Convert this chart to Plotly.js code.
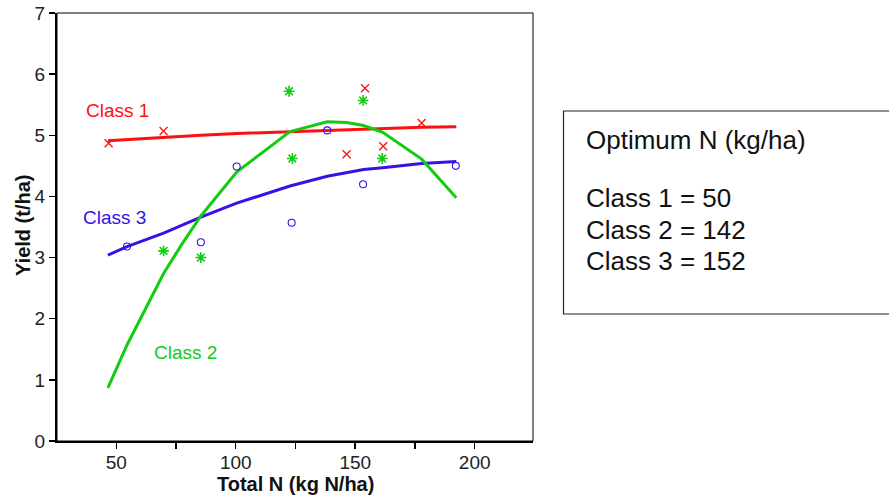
<!DOCTYPE html>
<html>
<head>
<meta charset="utf-8">
<script src="https://cdn.plot.ly/plotly-3.0.1.min.js"></script>
<style>html,body{margin:0;padding:0;background:#fff;}#chart{width:889px;height:497px;}</style>
</head>
<body>
<div id="chart"></div>
<script>
// Observed data (Total N kg/ha vs Yield t/ha)
var class1N = [46.8, 69.8, 146.4, 154.1, 161.7, 177.8];
var class1Y = [4.87, 5.07, 4.69, 5.77, 4.82, 5.20];
var class2N = [69.8, 85.4, 122.3, 123.7, 153.3, 161.3];
var class2Y = [3.11, 3.00, 5.72, 4.62, 5.57, 4.62];
var class3N = [54.5, 85.4, 100.4, 123.4, 138.3, 153.3, 192.1];
var class3Y = [3.18, 3.25, 4.49, 3.57, 5.08, 4.20, 4.50];

// Fitted response curves (read at the vertices of the drawn lines)
var fitN = [46.5, 54.5, 69.8, 77.5, 85.4, 100.4, 122.7, 138.3, 146.4, 153.5, 161.5, 177.8, 192.3];
var fit1Y = [4.91, 4.93, 4.97, 4.99, 5.00, 5.03, 5.06, 5.08, 5.09, 5.10, 5.11, 5.13, 5.14];
var fit2Y = [0.87, 1.57, 2.74, 3.22, 3.68, 4.40, 5.06, 5.22, 5.21, 5.16, 5.05, 4.61, 3.98];
var fit3Y = [3.04, 3.18, 3.40, 3.53, 3.66, 3.89, 4.17, 4.33, 4.39, 4.44, 4.47, 4.54, 4.57];

// Axis ticks
var xTickVals = [25, 50, 75, 100, 125, 150, 175, 200, 225];
var xTickText = ['', '50', '', '100', '', '150', '', '200', ''];
var yTickVals = [0, 1, 2, 3, 4, 5, 6, 7];

// Text
var xTitle = 'Total N (kg N/ha)';
var yTitle = 'Yield (t/ha)';
var classLabels = ['Class 1', 'Class 2', 'Class 3'];
var boxTitle = 'Optimum N (kg/ha)';
var optimumN = [50, 142, 152];

var RED = '#ff1010', GREEN = '#11cc11', BLUE = '#3a10e8';
var FONT = 'Arial, "Liberation Sans", sans-serif';

var traces = [
  {x: fitN, y: fit1Y, mode: 'lines', line: {color: RED, width: 3}},
  {x: fitN, y: fit3Y, mode: 'lines', line: {color: BLUE, width: 3}},
  {x: fitN, y: fit2Y, mode: 'lines', line: {color: GREEN, width: 3}},
  {x: class1N, y: class1Y, mode: 'markers',
   marker: {symbol: 'x-thin-open', size: 8, color: RED, line: {color: RED, width: 1.3}}},
  {x: class2N, y: class2Y, mode: 'markers',
   marker: {symbol: 'asterisk-open', size: 9, color: GREEN, line: {color: GREEN, width: 1.6}}},
  {x: class3N, y: class3Y, mode: 'markers',
   marker: {symbol: 'circle-open', size: 7, color: BLUE, line: {color: '#4a36f0', width: 1.1}}}
];

function px2paperX(p) { return (p - 57) / 476; }
function px2paperY(p) { return (441 - p) / 428; }

var annotations = [
  {x: 36.6, y: 5.41, xref: 'x', yref: 'y', text: classLabels[0], showarrow: false,
   xanchor: 'left', yanchor: 'middle', font: {family: FONT, size: 19, color: RED}},
  {x: 64.9, y: 1.44, xref: 'x', yref: 'y', text: classLabels[1], showarrow: false,
   xanchor: 'left', yanchor: 'middle', font: {family: FONT, size: 19, color: GREEN}},
  {x: 35.4, y: 3.65, xref: 'x', yref: 'y', text: classLabels[2], showarrow: false,
   xanchor: 'left', yanchor: 'middle', font: {family: FONT, size: 19, color: BLUE}},
  {x: px2paperX(295), y: px2paperY(484), xref: 'paper', yref: 'paper', text: '<b>' + xTitle + '</b>',
   showarrow: false, xanchor: 'center', yanchor: 'middle', font: {family: FONT, size: 20, color: '#111'}},
  {x: px2paperX(23), y: px2paperY(226), xref: 'paper', yref: 'paper', text: '<b>' + yTitle + '</b>',
   showarrow: false, textangle: -90, xanchor: 'center', yanchor: 'middle',
   font: {family: FONT, size: 20, color: '#111'}},
  {x: px2paperX(584), y: px2paperY(140), xref: 'paper', yref: 'paper', text: boxTitle, showarrow: false,
   xanchor: 'left', yanchor: 'middle', font: {family: FONT, size: 26, color: '#111'}}
];
var rowY = [198, 230, 261];
for (var i = 0; i < 3; i++) {
  annotations.push({x: px2paperX(584), y: px2paperY(rowY[i]), xref: 'paper', yref: 'paper',
    text: classLabels[i] + ' = ' + optimumN[i], showarrow: false,
    xanchor: 'left', yanchor: 'middle', font: {family: FONT, size: 26, color: '#111'}});
}

var layout = {
  width: 889, height: 497,
  margin: {l: 57, r: 356, t: 13, b: 56},
  paper_bgcolor: '#fff', plot_bgcolor: '#fff',
  showlegend: false,
  font: {family: FONT, color: '#222'},
  xaxis: {
    range: [25.2, 224.4], tickvals: xTickVals, ticktext: xTickText,
    ticks: 'outside', ticklen: 6, tickwidth: 1.5, tickcolor: '#000',
    showline: true, linecolor: '#000', linewidth: 2, showgrid: false, zeroline: false,
    tickfont: {family: FONT, size: 19, color: '#222'}, ticklabelstandoff: -3
  },
  yaxis: {
    range: [0, 7], tickvals: yTickVals,
    ticks: 'outside', ticklen: 6, tickwidth: 1.5, tickcolor: '#000',
    showline: true, linecolor: '#000', linewidth: 2, showgrid: false, zeroline: false,
    tickfont: {family: FONT, size: 19, color: '#222'}
  },
  shapes: [
    {type: 'rect', xref: 'paper', yref: 'paper', x0: 0, x1: 1, y0: 0, y1: 1,
     line: {color: '#000', width: 1}, fillcolor: 'rgba(0,0,0,0)', layer: 'below'},
    {type: 'rect', xref: 'paper', yref: 'paper',
     x0: px2paperX(563.5), x1: px2paperX(900), y0: px2paperY(314), y1: px2paperY(111),
     line: {color: '#222', width: 1.2}, fillcolor: 'rgba(0,0,0,0)'}
  ],
  annotations: annotations
};

Plotly.newPlot('chart', traces, layout, {staticPlot: true, displayModeBar: false});
</script>
</body>
</html>
